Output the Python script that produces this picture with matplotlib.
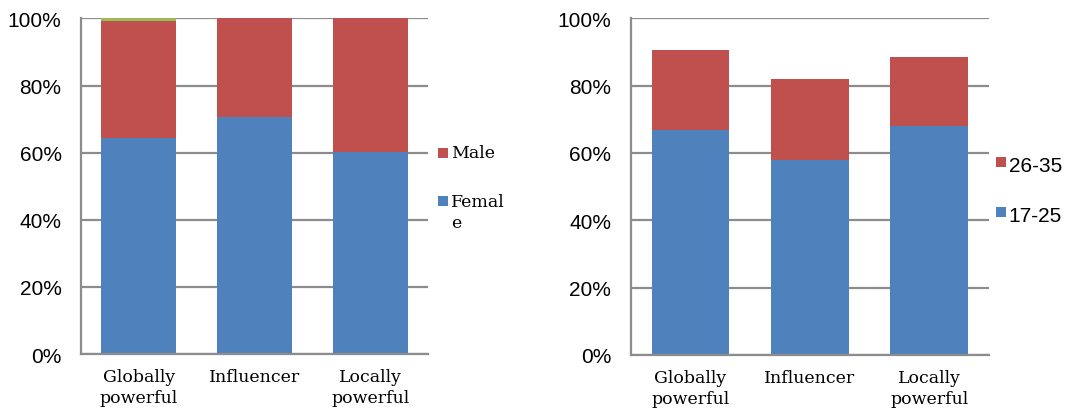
import numpy as np
import matplotlib
matplotlib.use('Agg')
import matplotlib.pyplot as plt
from matplotlib.patches import Rectangle
from matplotlib.ticker import FuncFormatter

# data
categories = ['Globally\npowerful', 'Influencer', 'Locally\npowerful']
female = [64.3, 70.6, 60.3]
male = [35.0, 29.4, 39.7]
other = [0.7, 0.0, 0.0]
age_17_25 = [66.8, 58.0, 68.0]
age_26_35 = [23.8, 23.9, 20.5]

blue = '#4f81bd'
red = '#c0504d'
green = '#9bbb59'
grid_c = '#8c8c8c'

W, H = 1067, 414
fig = plt.figure(figsize=(W / 100, H / 100), dpi=100)
ax1 = fig.add_axes([0.0759, 0.1425, 0.3252, 0.8104])
ax2 = fig.add_axes([0.5911, 0.1401, 0.3358, 0.8133])

x = np.arange(len(categories))
w = 0.65

def style(ax):
    ax.set_ylim(0, 100)
    ax.set_xlim(-0.5, 2.5)
    ax.set_yticks(np.arange(0, 101, 20))
    ax.yaxis.set_major_formatter(FuncFormatter(lambda v, p: '%d%%' % v))
    ax.grid(axis='y', color=grid_c, linewidth=1.6, zorder=0)
    ax.set_axisbelow(True)
    for s in ['top', 'right']:
        ax.spines[s].set_visible(False)
    for s in ['left', 'bottom']:
        ax.spines[s].set_color(grid_c)
        ax.spines[s].set_linewidth(1.6)
    ax.tick_params(axis='y', length=0, pad=14, labelsize=15)
    ax.tick_params(axis='x', length=0, pad=10)
    ax.set_xticks(x)
    ax.set_xticklabels(categories, family='DejaVu Serif', fontsize=12.5,
                       linespacing=1.3)
    for t in ax.get_yticklabels():
        t.set_family('Liberation Sans')

# legend drawn by hand: square patch + label, pixel positions
def legend_item(px, py, label, family, size, dy=0):
    fig.add_artist(Rectangle(((px - 5) / W, 1 - (py + 5) / H), 10 / W, 10 / H,
                             transform=fig.transFigure, facecolor=label[1],
                             edgecolor='none'))
    fig.text((px + 8) / W, 1 - (py + dy) / H, label[0], family=family,
             fontsize=size, va='center', ha='left', linespacing=1.3)

# gender chart
ax1.bar(x, female, w, color=blue, zorder=2)
ax1.bar(x, male, w, bottom=female, color=red, zorder=2)
ax1.bar(x, other, w, bottom=np.array(female) + np.array(male), color=green, zorder=2)
style(ax1)
legend_item(443, 153.5, ('Male', red), 'DejaVu Serif', 12.5)
legend_item(443, 202, ('Femal\ne', blue), 'DejaVu Serif', 12.5, dy=11)

# age chart
ax2.bar(x, age_17_25, w, color=blue, zorder=2)
ax2.bar(x, age_26_35, w, bottom=age_17_25, color=red, zorder=2)
style(ax2)
legend_item(1000.7, 162.5, ('26-35', red), 'Liberation Sans', 15, dy=4)
legend_item(1000.7, 213, ('17-25', blue), 'Liberation Sans', 15, dy=4)

fig.savefig('out.png', dpi=100)
